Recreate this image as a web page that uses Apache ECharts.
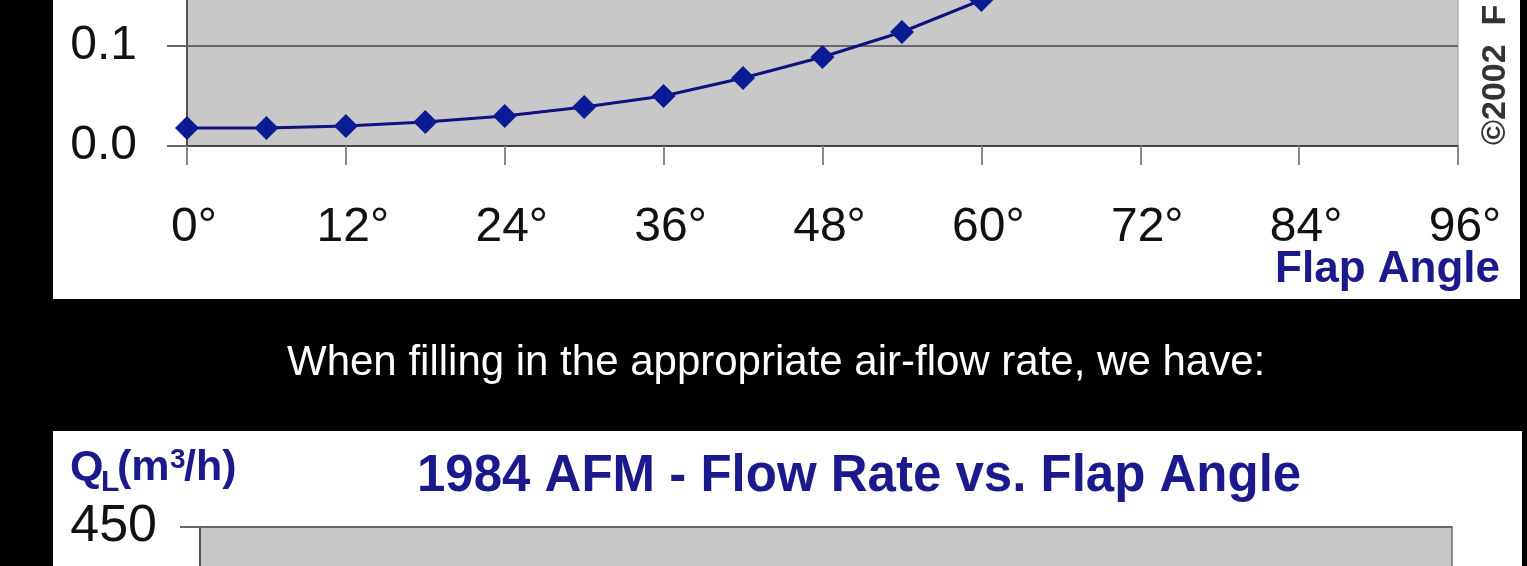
<!DOCTYPE html>
<html>
<head>
<meta charset="utf-8">
<title>1984 AFM - Flow Rate vs. Flap Angle</title>
<script src="https://cdn.jsdelivr.net/npm/echarts@6/dist/echarts.min.js"></script>
<style>
  html, body { margin: 0; padding: 0; background: #000; }
  #chart { width: 1527px; height: 566px; }
</style>
</head>
<body>
<div id="chart"></div>
<script>
// flap angle (degrees) of each measured point, top chart
var flapAngles = [0, 6, 12, 18, 24, 30, 36, 42, 48, 54, 60]
// values
var topValues = [0.018, 0.018, 0.020, 0.024, 0.030, 0.039, 0.050, 0.068, 0.089, 0.114, 0.146]
// tick labels
var angleTicks = [0, 12, 24, 36, 48, 60, 72, 84, 96]
var flowMax = 450

var FONT = '"Liberation Sans", Arial, Helvetica, sans-serif'
var BLUE = '#1a1a8c'

var chart = echarts.init(document.getElementById('chart'), null, { renderer: 'canvas' })

chart.setOption({
  backgroundColor: '#000',
  animation: false,
  textStyle: { fontFamily: FONT },
  graphic: [
    // white panels behind both charts
    { type: 'rect', z: -10, silent: true, shape: { x: 53, y: 0, width: 1467, height: 299 }, style: { fill: '#fff' } },
    { type: 'rect', z: -10, silent: true, shape: { x: 53, y: 431, width: 1469, height: 140 }, style: { fill: '#fff' } },
    // copyright, rotated
    {
      type: 'text', x: 1496, y: 145, rotation: Math.PI / 2,
      style: { text: '©2002  F', fill: '#333', font: 'bold 34px ' + FONT, textAlign: 'left', textVerticalAlign: 'middle' }
    },
    // x axis name of top chart
    {
      type: 'text', x: 1500, y: 270,
      style: { text: 'Flap Angle', fill: BLUE, font: 'bold 44px ' + FONT, textAlign: 'right', textVerticalAlign: 'middle' }
    },
    // caption between the charts
    {
      type: 'text', x: 287, y: 363,
      style: { text: 'When filling in the appropriate air-flow rate, we have:', fill: '#fff', font: '42px ' + FONT, textAlign: 'left', textVerticalAlign: 'middle' }
    },
    // bottom chart title
    {
      type: 'text', x: 417, y: 477,
      style: { text: '1984 AFM - Flow Rate vs. Flap Angle', fill: BLUE, font: 'bold 51px ' + FONT, textAlign: 'left', textVerticalAlign: 'middle' }
    },
    // y axis name of bottom chart: Q_L(m^3/h)
    { type: 'text', x: 70, y: 468, style: { text: 'Q', fill: BLUE, font: 'bold 43px ' + FONT, textVerticalAlign: 'middle' } },
    { type: 'text', x: 101, y: 483, style: { text: 'L', fill: BLUE, font: 'bold 30px ' + FONT, textVerticalAlign: 'middle' } },
    { type: 'text', x: 117, y: 468, style: { text: '(m', fill: BLUE, font: 'bold 43px ' + FONT, textVerticalAlign: 'middle' } },
    { type: 'text', x: 170, y: 460, style: { text: '3', fill: BLUE, font: 'bold 28px ' + FONT, textVerticalAlign: 'middle' } },
    { type: 'text', x: 184, y: 468, style: { text: '/h)', fill: BLUE, font: 'bold 43px ' + FONT, textVerticalAlign: 'middle' } }
  ],
  grid: [
    {
      left: 187, width: 1271, top: -54, height: 200,
      outerBoundsMode: 'none', containLabel: false,
      show: true, backgroundColor: '#c8c8c8', borderColor: '#9a9a9a', borderWidth: 1
    },
    {
      left: 200, width: 1252, top: 527, height: 700,
      outerBoundsMode: 'none', containLabel: false,
      show: true, backgroundColor: '#c8c8c8', borderColor: '#8a8a8a', borderWidth: 2
    }
  ],
  xAxis: [
    {
      type: 'value', gridIndex: 0,
      min: angleTicks[0], max: angleTicks[angleTicks.length - 1], interval: 12,
      axisLine: { show: true, lineStyle: { color: '#444', width: 2 } },
      axisTick: { show: true, length: 19, lineStyle: { color: '#888', width: 2 } },
      splitLine: { show: false },
      axisLabel: {
        margin: 58, color: '#111', fontSize: 48, fontFamily: FONT,
        padding: [0, 0, 0, 14],
        formatter: function (v) { return v + '°' }
      }
    },
    {
      type: 'value', gridIndex: 1, min: 0, max: 96, interval: 12,
      axisLine: { show: false }, axisTick: { show: false }, axisLabel: { show: false }, splitLine: { show: false }
    }
  ],
  yAxis: [
    {
      type: 'value', gridIndex: 0, min: 0, max: 0.2, interval: 0.1,
      axisLine: { show: true, lineStyle: { color: '#555', width: 2 } },
      axisTick: { show: true, length: 20, lineStyle: { color: '#666', width: 2 } },
      splitLine: { show: true, lineStyle: { color: '#666', width: 2 } },
      axisLabel: {
        margin: 50, color: '#111', fontSize: 48, fontFamily: FONT,
        formatter: function (v) { return v.toFixed(1) }
      }
    },
    {
      type: 'value', gridIndex: 1, min: 0, max: flowMax, interval: 50,
      axisLine: { show: true, lineStyle: { color: '#555', width: 2 } },
      axisTick: { show: true, length: 20, lineStyle: { color: '#666', width: 2 } },
      splitLine: { show: true, lineStyle: { color: '#666', width: 2 } },
      axisLabel: { margin: 43, color: '#111', fontSize: 52, fontFamily: FONT }
    }
  ],
  series: [
    {
      type: 'line',
      xAxisIndex: 0, yAxisIndex: 0,
      data: flapAngles.map(function (a, i) { return [a, topValues[i]] }),
      symbol: 'diamond',
      symbolSize: 24,
      lineStyle: { color: '#10107e', width: 3 },
      itemStyle: { color: '#0c1a94' }
    }
  ]
})
</script>
</body>
</html>
